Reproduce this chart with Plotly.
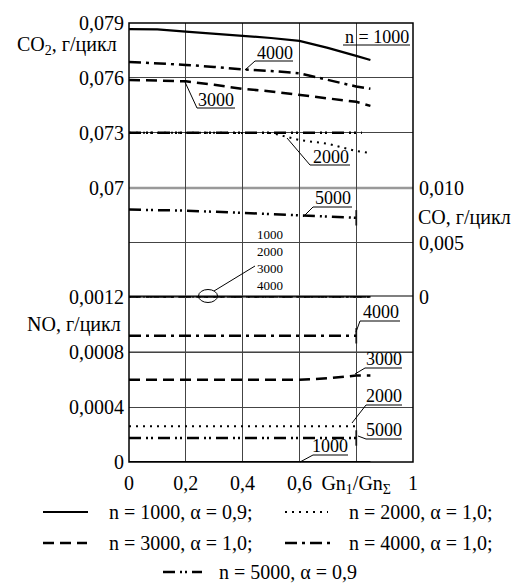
import plotly.graph_objects as go

FONT = "'Liberation Serif', 'Times New Roman', 'DejaVu Serif', serif"

# ---------------- data ----------------
x_main = [0, 0.1, 0.2, 0.3, 0.4, 0.5, 0.6, 0.7, 0.8, 0.85]
co2_1000 = [0.07866, 0.07865, 0.07853, 0.07842, 0.07829, 0.07818, 0.07802, 0.07764, 0.0772, 0.07698]
co2_2000 = [0.0730, 0.0730, 0.0730, 0.0730, 0.0730, 0.07299, 0.0726, 0.0724, 0.0720, 0.0719]
co2_3000 = [0.07589, 0.07587, 0.07581, 0.07562, 0.0754, 0.07526, 0.07507, 0.07485, 0.07469, 0.07447]
co2_4000 = [0.07687, 0.0768, 0.07671, 0.0766, 0.07646, 0.07638, 0.07625, 0.07589, 0.07553, 0.0754]
x_co2_5000 = [0, 0.4, 0.82]
co2_5000 = [0.0730, 0.0730, 0.0730]

x_co_zero = [0, 0.85]
co_1000 = [0, 0]
co_2000 = [0, 0]
co_3000 = [0, 0]
co_4000 = [0, 0]
x_co_5000 = [0, 0.2, 0.4, 0.6, 0.8]
co_5000 = [0.0080, 0.0079, 0.0077, 0.00745, 0.00725]

x_no_1000 = [0, 0.85]
no_1000 = [0, 0]
x_no_flat = [0, 0.8]
no_2000 = [0.00026, 0.00026]
no_4000 = [0.00092, 0.00092]
no_5000 = [0.000175, 0.000175]
x_no_3000 = [0, 0.2, 0.4, 0.6, 0.7, 0.8, 0.85]
no_3000 = [0.0006, 0.0006, 0.0006, 0.0006, 0.00061, 0.00063, 0.00063]

x_tickvals = [0, 0.2, 0.4, 0.6, 0.8, 1]
x_ticktext = ["0", "0,2", "0,4", "0,6", "Gn<sub>1</sub>/Gn<sub>Σ</sub>", "1"]
co2_ticks = [0.07, 0.073, 0.076, 0.079]
co2_ticktext = ["0,07", "0,073", "0,076", "0,079"]
co_ticks = [0, 0.005, 0.010]
co_ticktext = ["0", "0,005", "0,010"]
no_ticks = [0, 0.0004, 0.0008, 0.0012]
no_ticktext = ["0", "0,0004", "0,0008", "0,0012"]

legend_labels = {
    1000: "n = 1000, α = 0,9;",
    2000: "n = 2000, α = 1,0;",
    3000: "n = 3000, α = 1,0;",
    4000: "n = 4000, α = 1,0;",
    5000: "n = 5000, α = 0,9",
}

# ---------------- styles ----------------
styles = {
    1000: dict(color="black", width=2.2, dash="solid"),
    2000: dict(color="black", width=2.0, dash="2px,5px"),
    3000: dict(color="black", width=2.5, dash="11px,6px"),
    4000: dict(color="black", width=2.5, dash="12px,5px,3px,5px"),
    5000: dict(color="black", width=2.5, dash="12px,5px,2px,3px,2px,5px"),
}

W, H = 522, 584
L, R, T, B = 129, 413, 23, 462


def px(x):
    return (x - L) / (R - L)


def py(y):
    return (B - y) / (B - T)


fig = go.Figure()

series = [
    (x_main, co2_1000, "y", 1000, False),
    (x_main, co2_2000, "y", 2000, False),
    (x_main, co2_3000, "y", 3000, False),
    (x_main, co2_4000, "y", 4000, False),
    (x_co2_5000, co2_5000, "y", 5000, False),
    (x_co_zero, co_1000, "y2", 1000, False),
    (x_co_zero, co_2000, "y2", 2000, False),
    (x_co_zero, co_3000, "y2", 3000, False),
    (x_co_zero, co_4000, "y2", 4000, False),
    (x_co_5000, co_5000, "y2", 5000, True),
    (x_no_1000, no_1000, "y3", 1000, False),
    (x_no_flat, no_2000, "y3", 2000, False),
    (x_no_3000, no_3000, "y3", 3000, False),
    (x_no_flat, no_4000, "y3", 4000, True),
    (x_no_flat, no_5000, "y3", 5000, True),
]

for xs, ys, ya, n, endmark in series:
    sizes = [0] * (len(xs) - 1) + [11 if endmark else 0]
    fig.add_trace(go.Scatter(
        x=xs, y=ys, yaxis=ya, mode="lines+markers" if endmark else "lines",
        line=styles[n],
        marker=dict(symbol="line-ns", size=sizes, line=dict(width=2, color="black"), color="black"),
        showlegend=False, hoverinfo="skip",
    ))

tickfont = dict(family=FONT, size=20, color="black")
grid = dict(showgrid=True, gridcolor="#444", gridwidth=1, zeroline=False, showline=False, ticks="")

fig.update_layout(
    width=W, height=H,
    margin=dict(l=L, r=W - R, t=T, b=H - B),
    paper_bgcolor="white", plot_bgcolor="white",
    font=dict(family=FONT, size=20, color="black"),
    xaxis=dict(range=[0, 1], tickvals=x_tickvals, ticktext=x_ticktext, anchor="y3",
               tickfont=tickfont, ticklabelstandoff=7, **grid),
    yaxis=dict(domain=[5 / 8, 1], range=[0.07, 0.079], tickvals=co2_ticks, ticktext=co2_ticktext,
               side="left", anchor="x", tickfont=tickfont, ticklabelstandoff=4, **grid),
    yaxis2=dict(domain=[3 / 8, 5 / 8], range=[0, 0.010], tickvals=co_ticks, ticktext=co_ticktext,
                side="right", anchor="x", tickfont=tickfont, ticklabelstandoff=5, **grid),
    yaxis3=dict(domain=[0, 3 / 8], range=[0, 0.0012], tickvals=no_ticks, ticktext=no_ticktext,
                side="left", anchor="x", tickfont=tickfont, ticklabelstandoff=4, **grid),
)

shapes = []
annotations = []

# frame
shapes.append(dict(type="rect", xref="paper", yref="paper", x0=0, x1=1, y0=0, y1=1,
                   line=dict(color="black", width=1.5), layer="above"))
# boundary grid lines between scales
for yy, col, wd in [(188, "#999", 2.5), (296, "black", 1.2), (352, "#999", 2.2)]:
    shapes.append(dict(type="line", xref="paper", yref="paper", x0=0, x1=1, y0=py(yy), y1=py(yy),
                       line=dict(color=col, width=wd), layer="below"))


def text(t, cx, cy, size=18, xanchor="center"):
    annotations.append(dict(text=t, xref="paper", yref="paper", x=px(cx), y=py(cy),
                            xanchor=xanchor, yanchor="middle", showarrow=False,
                            font=dict(family=FONT, size=size, color="black")))


def seg(x0, y0, x1, y1, width=1.0, dash="solid", color="black"):
    shapes.append(dict(type="line", xref="paper", yref="paper", x0=px(x0), y0=py(y0),
                       x1=px(x1), y1=py(y1), line=dict(color=color, width=width, dash=dash)))


# axis titles
text("CO<sub>2</sub>, г/цикл", 119, 46, 20, "right")
text("NO, г/цикл", 123, 324, 20, "right")
text("CO, г/цикл", 416, 217, 20, "left")

# curve labels: (text, cx, cy, underline y, ux0, ux1, leader from, leader to)
labels = [
    ("n = 1000", 377, 37, 45, 343, 410, None, None),
    ("4000", 275, 53, 61, 255, 293, (255, 61), (245, 70)),
    ("3000", 216, 100, 108, 197, 235, (197, 108), (185, 82)),
    ("2000", 331, 157, 165, 310, 350, (310, 165), (287, 138)),
    ("5000", 333, 198, 207, 313, 352, (313, 207), (303, 217)),
    ("4000", 381, 312, 321, 360, 400, (360, 321), (356, 332)),
    ("3000", 384, 359, 368, 365, 402, (365, 368), (355, 374)),
    ("2000", 384, 396, 405, 366, 402, (366, 405), (352, 423)),
    ("5000", 384, 430, 439, 366, 402, (366, 439), (358, 436)),
    ("1000", 330, 446, 455, 313, 348, (313, 455), (300, 462)),
]
for t, cx, cy, uy, ux0, ux1, a, b in labels:
    text(t, cx, cy, 18)
    seg(ux0, uy, ux1, uy, 1)
    if a is not None:
        seg(a[0], a[1], b[0], b[1], 1)

# stacked CO labels (one block of text)
text("1000<br>2000<br>3000<br>4000", 270, 260, 13)
shapes.append(dict(type="circle", xref="paper", yref="paper", x0=px(198.5), x1=px(217.5),
                   y0=py(302.5), y1=py(289.5), line=dict(color="black", width=1)))
seg(214, 291, 255, 266, 1)

# legend
legend_rows = [
    (1000, 43, 88, 107, 512),
    (2000, 285, 328, 347, 512),
    (3000, 43, 87, 107, 543),
    (4000, 285, 330, 347, 543),
    (5000, 163, 202, 217, 572),
]
for n, lx0, lx1, tx, yy in legend_rows:
    st = styles[n]
    seg(lx0, yy, lx1, yy, st["width"], st["dash"])
    text(legend_labels[n], tx, yy, 20, "left")

fig.update_layout(shapes=shapes, annotations=annotations)
fig.write_html("out.html")
